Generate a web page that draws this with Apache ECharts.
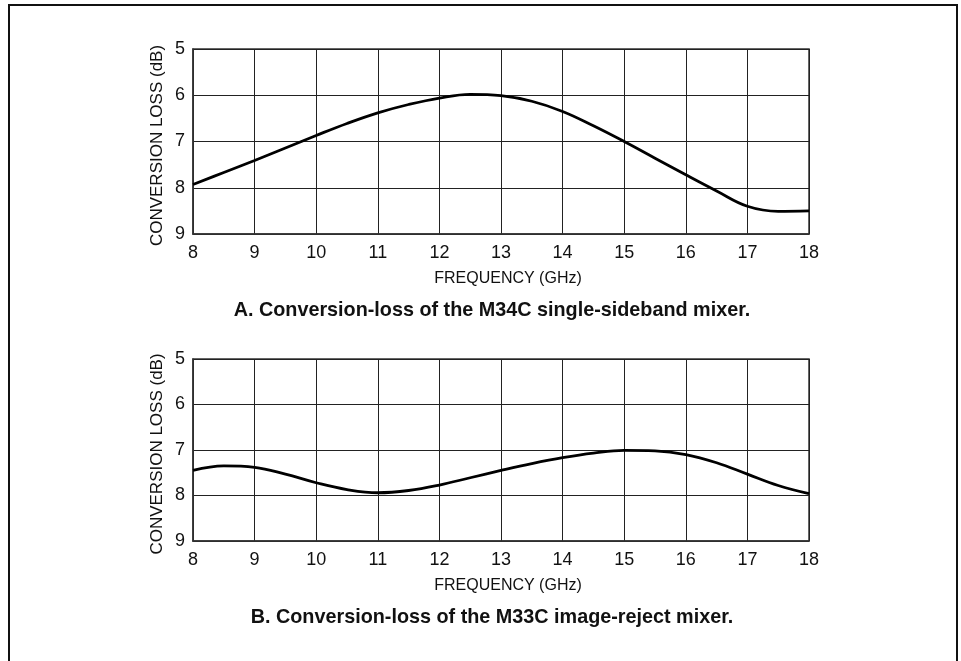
<!DOCTYPE html>
<html>
<head>
<meta charset="utf-8">
<script src="https://cdn.jsdelivr.net/npm/echarts@6/dist/echarts.min.js"></script>
<style>
  html, body { margin: 0; padding: 0; background: #fff; }
  #chart { width: 961px; height: 661px; }
</style>
</head>
<body>
<div id="chart"></div>
<script>
// frequency points (GHz)
var freq = [8, 8.5, 9, 9.5, 10, 10.5, 11, 11.5, 12, 12.5, 13, 13.5, 14, 14.5, 15, 15.5, 16, 16.5, 17, 17.5, 18];
// A. M34C single-sideband mixer, conversion loss (dB)
var lossA = [7.93, 7.67, 7.41, 7.14, 6.87, 6.61, 6.38, 6.20, 6.06, 5.98, 6.01, 6.13, 6.35, 6.66, 7.00, 7.36, 7.72, 8.07, 8.40, 8.51, 8.50];
// B. M33C image-reject mixer, conversion loss (dB)
var lossB = [7.45, 7.35, 7.38, 7.53, 7.72, 7.87, 7.94, 7.89, 7.77, 7.61, 7.45, 7.30, 7.17, 7.07, 7.01, 7.02, 7.10, 7.28, 7.53, 7.78, 7.96];

var captionA = 'A. Conversion-loss of the M34C single-sideband mixer.';
var captionB = 'B. Conversion-loss of the M33C image-reject mixer.';

var font = "'Liberation Sans', Arial, sans-serif";
var ink = '#111';

function xAxisFor(idx) {
    return {
        type: 'value',
        gridIndex: idx,
        min: 8,
        max: 18,
        interval: 1,
        name: 'FREQUENCY (GHz)',
        nameLocation: 'middle',
        nameGap: 37,
        nameTextStyle: { color: ink, fontSize: 16, fontFamily: font, padding: [0, 0, 0, 14] },
        axisLine: { show: true, lineStyle: { color: '#333', width: 1.5 } },
        axisTick: { show: false },
        axisLabel: { color: ink, fontSize: 18, fontFamily: font, margin: 10 },
        splitLine: { show: true, lineStyle: { color: '#222', width: 1 } }
    };
}

function yAxisFor(idx) {
    return {
        type: 'value',
        gridIndex: idx,
        min: 5,
        max: 9,
        interval: 1,
        inverse: true,
        name: 'CONVERSION LOSS (dB)',
        nameLocation: 'middle',
        nameGap: 27,
        nameMoveOverlap: false,
        nameTextStyle: { color: ink, fontSize: 17, fontFamily: font, padding: [0, 8, 0, 0] },
        axisLine: { show: true, lineStyle: { color: '#333', width: 1.5 } },
        axisTick: { show: false },
        axisLabel: { color: ink, fontSize: 18, fontFamily: font, margin: 8 },
        splitLine: { show: true, lineStyle: { color: '#222', width: 1 } }
    };
}

function seriesFor(idx, values) {
    return {
        type: 'line',
        xAxisIndex: idx,
        yAxisIndex: idx,
        data: freq.map(function (f, i) { return [f, values[i]]; }),
        smooth: 0.4,
        showSymbol: false,
        lineStyle: { color: '#000', width: 2.8 },
        animation: false
    };
}

var chart = echarts.init(document.getElementById('chart'));
chart.setOption({
    backgroundColor: '#fff',
    animation: false,
    grid: [
        { left: 193, top: 49, width: 616, height: 185, show: true, borderColor: '#333', borderWidth: 1.5 },
        { left: 193, top: 359, width: 616, height: 182, show: true, borderColor: '#333', borderWidth: 1.5 }
    ],
    xAxis: [xAxisFor(0), xAxisFor(1)],
    yAxis: [yAxisFor(0), yAxisFor(1)],
    series: [seriesFor(0, lossA), seriesFor(1, lossB)],
    graphic: [
        {
            type: 'rect',
            shape: { x: 9, y: 5, width: 948, height: 720 },
            style: { fill: 'none', stroke: ink, lineWidth: 2 }
        },
        {
            type: 'text',
            x: 492, y: 311,
            style: { text: captionA, font: 'bold 19.8px ' + font, fill: ink, align: 'center', verticalAlign: 'middle' }
        },
        {
            type: 'text',
            x: 492, y: 618,
            style: { text: captionB, font: 'bold 19.8px ' + font, fill: ink, align: 'center', verticalAlign: 'middle' }
        }
    ]
});
</script>
</body>
</html>
